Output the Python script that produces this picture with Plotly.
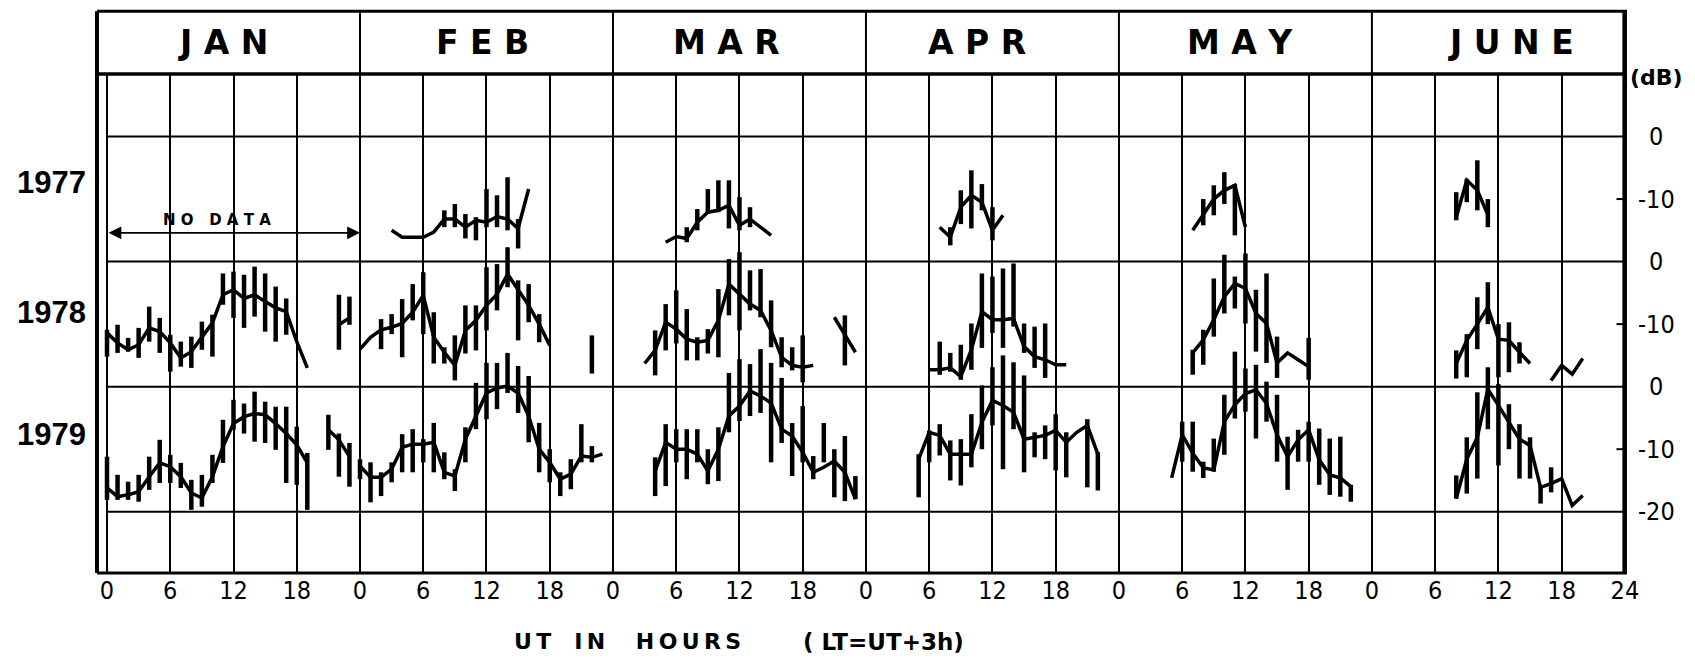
import plotly.graph_objects as go

_ = None

# ==========================================================
# Data (dB relative to row zero line), hourly, UT 0..23
# ==========================================================

MONTHS = ["J A N", "F E B", "M A R", "A P R", "M A Y", "J U N E"]
YEARS = ["1977", "1978", "1979"]
HOURS = list(range(24))
HOUR_LABELS = ["0", "6", "12", "18"]

JAN_1978_MEAN = [-11.4, -13.0, -14.1, -13.3, -10.6, -11.2, -13.0, -15.4, -14.4, -12.2, -9.8, -5.3, -4.5, -5.9, -5.3, -6.4, -7.4, -8.0, -12.8, -17.0, _, _, -10.1, -9.0]
JAN_1978_HI = [-10.9, -10.1, -12.2, -10.6, -7.2, -9.0, -11.7, -12.8, -12.0, -9.6, -8.5, -1.9, -1.6, -2.1, -0.8, -1.9, -4.0, -5.9, _, _, _, _, -5.3, -5.6]
JAN_1978_LO = [-15.2, -14.6, -14.4, -15.4, -12.8, -14.6, -17.6, -16.8, -17.0, -14.1, -15.2, -6.9, -9.0, -10.6, -8.8, -11.2, -12.8, -11.7, _, _, _, _, -14.1, -10.1]

JAN_1979_MEAN = [-16.2, -17.6, -17.3, -16.8, -14.4, -12.2, -12.8, -14.4, -17.0, -17.8, -14.4, -9.6, -5.9, -4.8, -4.3, -4.5, -5.9, -7.5, -9.3, -12.2, _, -6.9, -8.5, -11.2]
JAN_1979_HI = [-11.2, -14.1, -15.2, -14.1, -11.2, -8.5, -10.9, -12.2, -14.9, -14.1, -10.9, -5.3, -2.1, -2.7, -0.8, -2.4, -3.2, -3.2, -6.4, -10.6, _, -4.5, -7.5, -9.0]
JAN_1979_LO = [-18.1, -18.1, -18.1, -18.4, -16.5, -15.4, -15.4, -16.2, -19.7, -19.2, -15.4, -12.2, -6.9, -7.5, -8.8, -9.0, -10.1, -15.4, -15.7, -19.7, _, -10.1, -14.4, -16.0]

FEB_1977_MEAN = [_, _, _, -15.0, -16.1, -16.1, -16.1, -15.3, -13.2, -13.2, -14.5, -13.4, -13.7, -12.8, -13.2, -14.7, -8.4, _, _, _, _, _, _, _]
FEB_1977_HI = [_, _, _, _, _, _, _, _, -11.8, -10.8, -12.4, -12.9, -8.4, -9.4, -6.5, -13.2, _, _, _, _, _, _, _, _]
FEB_1977_LO = [_, _, _, _, _, _, _, _, -14.5, -14.5, -16.3, -16.6, -14.5, -14.5, -15.0, -17.9, _, _, _, _, _, _, _, _]

FEB_1978_MEAN = [-14.0, -12.1, -10.9, -10.5, -9.9, -8.1, -5.4, -12.1, -14.5, -16.6, -11.0, -9.4, -7.0, -5.2, -2.0, -4.6, -7.0, -10.0, -13.4, _, _, _, -14.9, _]
FEB_1978_HI = [_, _, -9.2, -8.4, -6.0, -3.6, -1.7, -8.1, -13.7, -11.8, -7.0, -7.0, -0.9, -0.4, 2.3, -3.0, -3.6, -8.4, _, _, _, _, -11.8, _]
FEB_1978_LO = [_, _, -14.0, -11.6, -15.3, -9.4, -11.6, -16.3, -16.3, -19.0, -14.7, -14.2, -11.0, -7.8, -4.1, -12.6, -9.7, -12.9, _, _, _, _, -17.9, _]

FEB_1979_MEAN = [-12.7, -14.5, -14.5, -13.2, -9.7, -9.2, -9.2, -8.9, -13.7, -14.3, -8.4, -4.7, -1.0, -0.2, 0.1, -1.0, -4.7, -10.0, -12.1, -14.8, -14.0, -11.1, -11.3, -10.8]
FEB_1979_HI = [-11.6, -12.1, -13.7, -12.1, -7.6, -6.8, -8.4, -5.8, -10.5, -13.2, -6.5, 0.6, 3.8, 3.8, 5.4, 3.3, 1.7, -5.8, -10.0, -13.7, -11.6, -6.0, -9.5, _]
FEB_1979_LO = [-14.8, -18.5, -17.5, -15.3, -13.7, -13.7, -12.1, -13.7, -14.8, -16.7, -12.1, -6.8, -5.2, -3.6, -1.0, -4.2, -8.9, -13.7, -15.3, -17.5, -16.4, -12.1, -12.1, _]

MAR_1977_MEAN = [_, _, _, _, _, -16.9, -16.0, -16.3, -13.7, -12.1, -11.8, -11.0, -14.2, -13.2, -14.5, -15.8, _, _, _, _, _, _, _, _]
MAR_1977_HI = [_, _, _, _, _, _, _, -14.5, -11.6, -8.4, -7.0, -7.0, -9.7, -11.3, _, _, _, _, _, _, _, _, _, _]
MAR_1977_LO = [_, _, _, _, _, _, _, -16.9, -15.0, -12.1, -12.1, -14.7, -15.0, -14.5, _, _, _, _, _, _, _, _, _, _]

MAR_1978_MEAN = [_, _, _, -16.3, -14.2, -9.7, -10.8, -12.4, -12.9, -12.6, -9.4, -3.6, -5.2, -6.8, -7.8, -11.0, -15.3, -16.6, -16.9, -16.6, _, -8.9, -11.6, -14.5]
MAR_1978_HI = [_, _, _, _, -11.0, -6.8, -4.6, -7.6, -12.1, -10.8, -4.4, 0.4, 1.5, -1.4, -1.2, -6.2, -12.1, -13.7, -11.8, _, _, _, -8.6, _]
MAR_1978_LO = [_, _, _, _, -18.2, -14.2, -13.1, -15.8, -15.8, -14.7, -15.3, -8.6, -11.0, -7.8, -8.9, -13.7, -16.9, -17.4, -19.3, _, _, _, -16.6, _]

MAR_1979_MEAN = [_, _, _, _, -13.5, -8.9, -10.0, -10.0, -10.8, -13.5, -10.0, -4.7, -3.1, -0.7, -1.5, -2.6, -6.8, -7.9, -10.5, -13.7, -12.9, -11.9, -13.7, -18.0]
MAR_1979_HI = [_, _, _, _, -11.3, -6.0, -6.8, -6.8, -6.8, -10.0, -6.5, 2.2, 4.4, 3.6, 6.0, 3.8, 1.4, -5.8, -3.1, -11.1, -5.8, -10.0, -7.9, -14.3]
MAR_1979_LO = [_, _, _, _, -17.5, -15.9, -12.1, -14.8, -12.1, -15.6, -15.1, -7.3, -5.5, -4.7, -4.2, -12.1, -9.0, -14.3, -12.1, -14.8, -12.1, -17.7, -18.3, -18.0]

APR_1977_MEAN = [_, _, _, _, _, _, _, -14.5, -16.1, -11.3, -9.4, -10.5, -15.0, -12.6, _, _, _, _, _, _, _, _, _, _]
APR_1977_HI = [_, _, _, _, _, _, _, _, -14.5, -8.6, -5.4, -7.6, -11.3, _, _, _, _, _, _, _, _, _, _, _]
APR_1977_LO = [_, _, _, _, _, _, _, _, -17.4, -14.0, -14.7, -11.8, -16.6, _, _, _, _, _, _, _, _, _, _, _]

APR_1978_MEAN = [_, _, _, _, _, _, -17.3, -17.3, -17.0, -18.4, -14.1, -8.0, -9.3, -9.3, -9.1, -13.6, -15.2, -15.7, -16.5, -16.5, _, _, _, _]
APR_1978_HI = [_, _, _, _, _, _, _, -12.8, -14.6, -13.3, -9.9, -1.9, -2.4, -1.1, -0.3, -9.9, -10.4, -9.9, _, _, _, _, _, _]
APR_1978_LO = [_, _, _, _, _, _, _, -18.1, -17.6, -18.9, -17.3, -13.8, -11.4, -13.8, -10.4, -14.6, -17.0, -18.6, _, _, _, _, _, _]

APR_1979_MEAN = [_, _, _, _, _, -11.6, -7.3, -7.8, -10.8, -10.8, -10.8, -5.7, -2.2, -3.0, -4.1, -8.4, -8.1, -7.8, -7.0, -8.9, -7.3, -6.2, -10.8, _]
APR_1979_HI = [_, _, _, _, _, -10.8, -7.0, -6.0, -8.6, -8.4, -4.4, 0.2, 3.1, 5.0, 3.9, 1.8, -7.3, -6.2, -4.4, -7.3, _, -5.2, -10.5, _]
APR_1979_LO = [_, _, _, _, _, -17.7, -12.1, -11.0, -15.0, -15.8, -12.9, -10.0, -6.2, -13.2, -6.8, -13.7, -11.3, -11.6, -13.4, -14.5, _, -16.1, -16.6, _]

MAY_1977_MEAN = [_, _, _, _, _, _, _, -15.0, -12.4, -10.0, -8.6, -7.8, -14.5, _, _, _, _, _, _, _, _, _, _, _]
MAY_1977_HI = [_, _, _, _, _, _, _, _, -10.0, -7.8, -5.7, -7.6, _, _, _, _, _, _, _, _, _, _, _, _]
MAY_1977_LO = [_, _, _, _, _, _, _, _, -14.2, -12.6, -10.8, -15.8, _, _, _, _, _, _, _, _, _, _, _, _]

MAY_1978_MEAN = [_, _, _, _, _, _, _, -14.6, -12.5, -9.3, -5.6, -3.5, -4.3, -8.3, -9.9, -16.2, -14.6, -15.7, -16.8, _, _, _, _, _]
MAY_1978_HI = [_, _, _, _, _, _, _, -14.1, -10.9, -2.7, 1.1, -2.4, 1.3, -4.5, -1.9, -12.0, _, _, -12.2, _, _, _, _, _]
MAY_1978_LO = [_, _, _, _, _, _, _, -18.1, -16.5, -12.0, -8.3, -7.5, -9.9, -14.4, -16.2, -18.6, _, _, -18.9, _, _, _, _, _]

MAY_1979_MEAN = [_, _, _, _, _, -14.6, -7.7, -10.6, -13.0, -13.3, -5.6, -2.9, -1.1, -0.5, -2.7, -7.7, -11.2, -8.5, -6.9, -11.7, -14.1, -14.6, -16.0, _]
MAY_1979_HI = [_, _, _, _, _, _, -5.6, -5.6, -12.0, -8.3, -1.3, 5.6, 2.9, 3.5, 0.8, -1.3, -8.0, -6.9, -5.6, -6.7, -8.3, -8.0, -15.7, _]
MAY_1979_LO = [_, _, _, _, _, _, -12.0, -13.6, -14.6, -13.6, -10.9, -5.1, -4.0, -8.3, -5.6, -12.0, -16.5, -12.0, -12.0, -15.7, -17.3, -17.6, -18.4, _]

JUNE_1977_MEAN = [_, _, _, _, _, _, _, _, -12.9, -7.0, -8.6, -12.5, _, _, _, _, _, _, _, _, _, _, _, _]
JUNE_1977_HI = [_, _, _, _, _, _, _, _, -8.9, -6.8, -3.8, -10.0, _, _, _, _, _, _, _, _, _, _, _, _]
JUNE_1977_LO = [_, _, _, _, _, _, _, _, -13.4, -10.5, -11.8, -14.5, _, _, _, _, _, _, _, _, _, _, _, _]

JUNE_1978_MEAN = [_, _, _, _, _, _, _, _, -16.3, -12.6, -10.0, -7.3, -12.4, -12.6, -14.5, -16.3, _, -19.0, -16.6, -18.0, -15.5, _, _, _]
JUNE_1978_HI = [_, _, _, _, _, _, _, _, -14.2, -11.6, -5.7, -3.3, -10.0, -9.7, -12.9, _, _, _, _, _, _, _, _, _]
JUNE_1978_LO = [_, _, _, _, _, _, _, _, -18.7, -18.5, -14.0, -10.0, -18.5, -17.7, -16.3, _, _, _, _, _, _, _, _, _]

JUNE_1979_MEAN = [_, _, _, _, _, _, _, _, -17.9, -11.6, -8.1, -0.4, -3.0, -5.7, -8.4, -9.4, -16.1, -15.5, -14.7, -19.0, -17.4, _, _, _]
JUNE_1979_HI = [_, _, _, _, _, _, _, _, -14.2, -8.1, -0.9, 3.1, 0.4, -2.8, -6.0, -8.1, -15.8, -12.9, _, _, _, _, _, _]
JUNE_1979_LO = [_, _, _, _, _, _, _, _, -17.9, -17.1, -14.7, -6.8, -12.6, -10.0, -14.7, -14.7, -18.7, -16.9, _, _, _, _, _, _]

# (month index, year index, mean, bar top, bar bottom)
SERIES = [
    (0, 1, JAN_1978_MEAN, JAN_1978_HI, JAN_1978_LO),
    (0, 2, JAN_1979_MEAN, JAN_1979_HI, JAN_1979_LO),
    (1, 0, FEB_1977_MEAN, FEB_1977_HI, FEB_1977_LO),
    (1, 1, FEB_1978_MEAN, FEB_1978_HI, FEB_1978_LO),
    (1, 2, FEB_1979_MEAN, FEB_1979_HI, FEB_1979_LO),
    (2, 0, MAR_1977_MEAN, MAR_1977_HI, MAR_1977_LO),
    (2, 1, MAR_1978_MEAN, MAR_1978_HI, MAR_1978_LO),
    (2, 2, MAR_1979_MEAN, MAR_1979_HI, MAR_1979_LO),
    (3, 0, APR_1977_MEAN, APR_1977_HI, APR_1977_LO),
    (3, 1, APR_1978_MEAN, APR_1978_HI, APR_1978_LO),
    (3, 2, APR_1979_MEAN, APR_1979_HI, APR_1979_LO),
    (4, 0, MAY_1977_MEAN, MAY_1977_HI, MAY_1977_LO),
    (4, 1, MAY_1978_MEAN, MAY_1978_HI, MAY_1978_LO),
    (4, 2, MAY_1979_MEAN, MAY_1979_HI, MAY_1979_LO),
    (5, 0, JUNE_1977_MEAN, JUNE_1977_HI, JUNE_1977_LO),
    (5, 1, JUNE_1978_MEAN, JUNE_1978_HI, JUNE_1978_LO),
    (5, 2, JUNE_1979_MEAN, JUNE_1979_HI, JUNE_1979_LO),
]

# each year row sits 20 dB below the previous one
ROW_OFFSET = [0, -20, -40]

DB_LABEL_TEXT = ["0", "-10", "0", "-10", "0", "-10", "-20"]
DB_LABEL_POS = [0, -10, -20, -30, -40, -50, -60]

FONT = "Liberation Sans Narrow, DejaVu Sans Condensed, Liberation Sans"
BOLD = "DejaVu Sans, Liberation Sans"

# ==========================================================
# Traces
# ==========================================================

line_x, line_y = [], []
bar_x, bar_y = [], []

for m, yr, mean, hi, lo in SERIES:
    off = ROW_OFFSET[yr]
    for h in HOURS:
        x = 24 * m + h
        line_x.append(x)
        line_y.append(None if mean[h] is None else mean[h] + off)
        if hi[h] is not None:
            bar_x += [x, x, None]
            bar_y += [lo[h] + off, hi[h] + off, None]
    line_x.append(None)
    line_y.append(None)

fig = go.Figure()

fig.add_trace(go.Scatter(
    x=bar_x, y=bar_y, mode="lines",
    line=dict(color="black", width=4.5),
    hoverinfo="skip"
))

fig.add_trace(go.Scatter(
    x=line_x, y=line_y, mode="lines",
    line=dict(color="black", width=3.5),
    connectgaps=False
))

# ==========================================================
# Frame, header and grid
# ==========================================================

HEAD_TOP = 1.126
shapes = []

# horizontal zero / -20 lines of each row
for yv in [0, -20, -40, -60]:
    shapes.append(dict(type="line", xref="x", yref="y", x0=0, x1=144.2, y0=yv, y1=yv,
                       line=dict(color="black", width=2)))

# small dB ticks on the right border
for yv in [-10, -30, -50]:
    shapes.append(dict(type="line", xref="x", yref="y", x0=143.2, x1=144, y0=yv, y1=yv,
                       line=dict(color="black", width=2)))

# header box
shapes.append(dict(type="line", xref="paper", yref="paper", x0=0, x1=1, y0=HEAD_TOP, y1=HEAD_TOP,
                   line=dict(color="black", width=3)))
shapes.append(dict(type="line", xref="paper", yref="paper", x0=0, x1=1, y0=1, y1=1,
                   line=dict(color="black", width=3.5)))
for m in range(1, 6):
    shapes.append(dict(type="line", xref="x", yref="paper", x0=24 * m, x1=24 * m, y0=1, y1=HEAD_TOP,
                       line=dict(color="black", width=2)))

# outer borders
shapes.append(dict(type="line", xref="paper", yref="paper", x0=0, x1=0, y0=0, y1=HEAD_TOP,
                   line=dict(color="black", width=4)))
shapes.append(dict(type="line", xref="x", yref="paper", x0=144, x1=144, y0=0, y1=HEAD_TOP,
                   line=dict(color="black", width=5)))
shapes.append(dict(type="line", xref="paper", yref="paper", x0=0, x1=1, y0=0, y1=0,
                   line=dict(color="black", width=3)))

annotations = []

MONTH_CENTER = [11.0, 35.6, 58.8, 82.5, 107.5, 133.2]
for name, xc in zip(MONTHS, MONTH_CENTER):
    annotations.append(dict(x=xc, y=1.063, xref="x", yref="paper", xanchor="center", yanchor="middle",
                            text=f"<b>{name}</b>", showarrow=False,
                            font=dict(size=33, family=BOLD, color="black")))

YEAR_POS = [-7.4, -28.1, -47.7]
for label, yv in zip(YEARS, YEAR_POS):
    annotations.append(dict(x=-0.030, y=yv, xref="paper", yref="y", xanchor="center", yanchor="middle",
                            text=f"<b>{label}</b>", showarrow=False,
                            font=dict(size=31, family="Liberation Sans, Arial", color="black")))

for txt, yv in zip(DB_LABEL_TEXT, DB_LABEL_POS):
    annotations.append(dict(x=1.0192, y=yv, xref="paper", yref="y", xanchor="center", yanchor="middle",
                            text=txt, showarrow=False,
                            font=dict(size=25, family=FONT, color="black")))

annotations.append(dict(x=1.0196, y=0.993, xref="paper", yref="paper", xanchor="center", yanchor="middle",
                        text="<b>(dB)</b>", showarrow=False,
                        font=dict(size=22, family=BOLD, color="black")))

# NO DATA arrow for January 1977
annotations.append(dict(x=24, y=-15.4, ax=0, ay=-15.4, xref="x", yref="y", axref="x", ayref="y",
                        text="", showarrow=True, arrowhead=2, arrowside="end+start",
                        arrowsize=1.6, arrowwidth=1.6, arrowcolor="black"))
annotations.append(dict(x=10.4, y=-13.4, xref="x", yref="y", xanchor="center", yanchor="middle",
                        text="<b>N O \u00a0 D A T A</b>", showarrow=False,
                        font=dict(size=15, family=BOLD, color="black")))

# x axis title
annotations.append(dict(x=0.347, y=-0.138, xref="paper", yref="paper", xanchor="center", yanchor="middle",
                        text="<b>U\u2009T\u00a0\u00a0\u00a0I\u2009N\u00a0\u00a0\u00a0\u00a0H\u2009O\u2009U\u2009R\u2009S</b>",
                        showarrow=False, font=dict(size=22, family=BOLD, color="black")))
annotations.append(dict(x=0.514, y=-0.138, xref="paper", yref="paper", xanchor="center", yanchor="middle",
                        text="<b>(\u00a0LT=UT+3h)</b>", showarrow=False,
                        font=dict(size=23, family=BOLD, color="black")))

tickvals = [6 * i for i in range(25)]
ticktext = HOUR_LABELS * 6 + ["24"]

fig.update_layout(
    width=1695,
    height=662,
    showlegend=False,
    paper_bgcolor="white",
    plot_bgcolor="white",
    margin=dict(l=89, r=76, t=66, b=97),
    shapes=shapes,
    annotations=annotations,
)

fig.update_xaxes(
    range=[-0.95, 144.2],
    tickvals=tickvals,
    ticktext=ticktext,
    showgrid=True,
    gridcolor="black",
    gridwidth=2,
    zeroline=False,
    showline=False,
    ticks="",
    tickfont=dict(size=25, family=FONT, color="black"),
)

fig.update_yaxes(
    range=[-69.8, 10],
    showgrid=False,
    zeroline=False,
    showticklabels=False,
    showline=False,
)

fig.write_html("out.html")
